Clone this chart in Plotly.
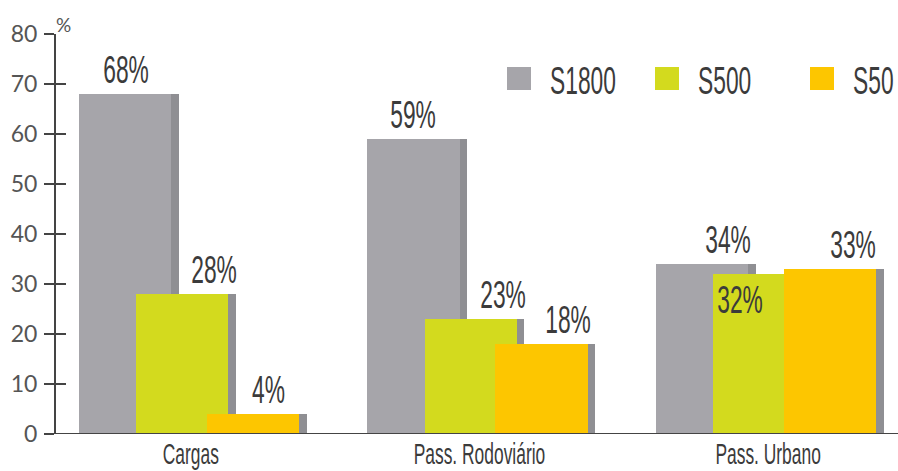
import plotly.graph_objects as go

# Data
categories = ["Cargas", "Pass. Rodoviário", "Pass. Urbano"]
series_names = ["S1800", "S500", "S50"]
s1800 = [68, 59, 34]
s500 = [28, 23, 32]
s50 = [4, 18, 33]
y_ticks = [0, 10, 20, 30, 40, 50, 60, 70, 80]

# Styling
colors = ["#a6a5aa", "#d3da1e", "#fdc600"]
shadow = "#8f8f93"
label_color = "#3b3b3b"
cond_font = "Liberation Sans"       # squeezed horizontally after render
squeeze = 0.6
tick_font = "Lato, Noto Sans, sans-serif"

bar_w = 0.346          # full bar width incl. side strip
strip_w = 0.026        # darker right-side strip
offsets = [-0.388, -0.19, 0.055]
# per-label horizontal nudge (px) and placement (above / inside)
label_dx = [[-3, 28, 12], [-4, 28, 23], [22, -23, 19]]
label_inside = [[False, False, False], [False, False, False], [False, True, False]]

values = [s1800, s500, s50]
xs = list(range(len(categories)))


def cfont(size):
    return dict(family=cond_font, size=size, color=label_color)


fig = go.Figure()
for i, (name, vals) in enumerate(zip(series_names, values)):
    # side strip (full width, drawn first)
    fig.add_trace(go.Bar(
        x=xs, y=vals, width=bar_w, offset=offsets[i],
        marker=dict(color=shadow, line=dict(width=0)),
        showlegend=False, hoverinfo="skip",
    ))
    # main coloured face
    fig.add_trace(go.Bar(
        x=xs, y=vals, width=bar_w - strip_w, offset=offsets[i],
        marker=dict(color=colors[i], line=dict(width=0)),
        name=name, showlegend=False,
    ))

# invisible trace so the crossing-tick axis is drawn
fig.add_trace(go.Scatter(x=[0], y=[0], yaxis="y2", mode="markers",
                         marker=dict(opacity=0), showlegend=False, hoverinfo="skip"))

annotations = []
for i, vals in enumerate(values):
    for c, v in enumerate(vals):
        cx = c + offsets[i] + bar_w / 2
        inside = label_inside[c][i]
        annotations.append(dict(
            x=cx, y=v, xref="x", yref="y",
            text=f"{v}%", showarrow=False,
            xshift=label_dx[c][i],
            yanchor="top" if inside else "bottom",
            yshift=-3 if inside else 1,
            font=cfont(38),
        ))

# "%" unit label above the axis
annotations.append(dict(
    x=0, y=1, xref="paper", yref="paper", text="%", showarrow=False,
    xanchor="left", yanchor="bottom", xshift=-2, yshift=-4,
    font=dict(family=tick_font, size=19, color="#555555"),
))

# legend drawn as squares + labels across the top right
shapes = []
leg_x = [507, 655, 810]
leg_text_x = [550, 698, 853]
W, H = 898, 471
for i, name in enumerate(series_names):
    shapes.append(dict(
        type="rect", xref="paper", yref="paper",
        x0=(leg_x[i] - 56) / (W - 56), x1=(leg_x[i] + 24 - 56) / (W - 56),
        y0=(434 - 90) / 400, y1=(434 - 67) / 400,
        fillcolor=colors[i], line=dict(width=0), layer="above",
    ))
    annotations.append(dict(
        x=(leg_text_x[i] - 56) / (W - 56), y=(434 - 81) / 400,
        xref="paper", yref="paper", text=name, showarrow=False,
        xanchor="left", yanchor="middle", align="left", xshift=-2,
        font=cfont(38),
    ))

fig.update_layout(
    width=W, height=H,
    margin=dict(l=56, r=0, t=34, b=37),
    paper_bgcolor="white", plot_bgcolor="white",
    barmode="overlay", bargap=0,
    annotations=annotations, shapes=shapes,
    xaxis=dict(
        range=[-0.467, 2.45], tickmode="array", tickvals=xs, ticktext=categories,
        showgrid=False, zeroline=False, showline=False, ticks="",
        tickfont=cfont(29),
    ),
    yaxis=dict(
        range=[0, 80], tickvals=y_ticks, showgrid=False, zeroline=False,
        showline=True, linecolor="#444444", linewidth=2,
        ticks="outside", ticklen=10, tickwidth=2, tickcolor="#444444",
        tickfont=dict(family=tick_font, size=23, color="#555555"),
        ticklabelstandoff=2,
    ),
    yaxis2=dict(
        range=[0, 80], tickvals=y_ticks, overlaying="y", side="left",
        anchor="x", showgrid=False, zeroline=False, showline=False,
        ticks="inside", ticklen=10, tickwidth=2, tickcolor="#444444",
        showticklabels=False,
    ),
)

# baseline along the bottom
fig.add_shape(type="line", xref="paper", yref="y", x0=-0.012, x1=1, y0=0, y1=0,
              line=dict(color="#444444", width=2), layer="above")

# condense the narrow-style texts by squeezing glyph widths in the SVG
post_js = """
(function () {
  var k = %s;
  function squeeze() {
    var gd = document.getElementById('{plot_id}');
    if (!gd) return;
    gd.querySelectorAll('text').forEach(function (t) {
      var ff = (t.style.fontFamily || '');
      if (ff.indexOf('Liberation Sans') < 0) return;
      if (!t.dataset.fullLen) {
        t.dataset.fullLen = t.getComputedTextLength();
      }
      t.setAttribute('textLength', parseFloat(t.dataset.fullLen) * k);
      t.setAttribute('lengthAdjust', 'spacingAndGlyphs');
    });
  }
  squeeze();
  setTimeout(squeeze, 0);
  setTimeout(squeeze, 300);
  var gd = document.getElementById('{plot_id}');
  if (gd && gd.on) gd.on('plotly_afterplot', squeeze);
})();
""" % squeeze

fig.write_html("out.html", post_script=post_js)
